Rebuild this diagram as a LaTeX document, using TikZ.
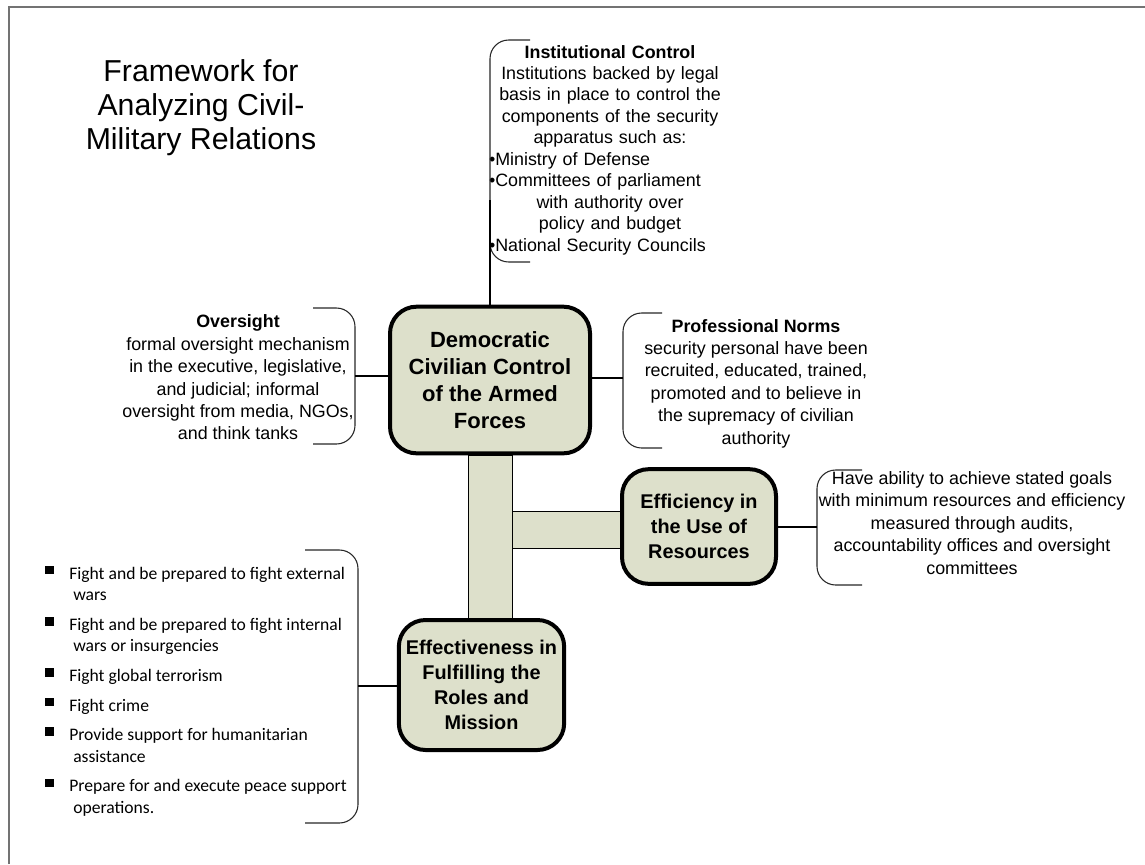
\documentclass[tikz,border=0pt]{standalone}
\usepackage{fontspec}
\setmainfont{Liberation Sans}
\newfontfamily\listfont{Carlito}
\usetikzlibrary{calc, backgrounds}

\definecolor{boxfill}{RGB}{221,224,203}
\newcommand{\sqbullet}{\makebox[18pt][l]{\raisebox{3.5pt}{\rule{6.5pt}{6.5pt}}}}
\newcommand{\institem}[1]{\makebox[181.5pt][l]{\textbullet #1}}

\begin{document}
\begin{tikzpicture}[
    x=0.75pt, y=-0.75pt,
    mainbox/.style={draw, line width=3pt, rounded corners=20pt, fill=boxfill, inner sep=0pt, align=center, font=\bfseries\fontsize{14.9}{18.9}\selectfont},
    bar/.style={draw, line width=0.6pt, fill=boxfill},
    desc/.style={inner sep=0pt, align=center, font=\fontsize{13.4}{16.8}\selectfont},
    brace/.style={draw=black!85, line width=0.8pt, rounded corners=14pt},
    link/.style={draw, line width=0.8pt}
]

% Marco
\useasboundingbox (0,0) rectangle (1145,864);
\draw [black!55, line width=1.5pt] (9,864) -- (9,7) -- (1145,7);

% Titulo
\node (title) [align=center, font=\fontsize{22.7}{25.5}\selectfont] at (201,108) {Framework for\\Analyzing Civil-\\Military Relations};

% Cajas principales
\node (ctrl) [mainbox, minimum width=150pt, minimum height=110pt, font=\bfseries\fontsize{16.5}{20.2}\selectfont] at (490,380) {Democratic\\Civilian Control\\of the Armed\\Forces};
\node (effic) [mainbox, minimum width=115.5pt, minimum height=86pt] at (699,526.5) {Efficiency in\\the Use of\\Resources};
\node (effect) [mainbox, minimum width=124pt, minimum height=97.5pt] at (481.5,685) {Effectiveness in\\Fulfilling the\\Roles and\\Mission};

% Barras de union
\begin{scope}[on background layer]
    \draw [bar] ($(ctrl.south)+(-22,0)$) rectangle ($(ctrl.south |- effect.north)+(22,0)$);
    \draw [bar] ($(ctrl.south |- effic.west)+(22,-15.5)$) rectangle ($(effic.west)+(0,21.5)$);
\end{scope}

% Textos
\node (inst) [desc, text width=181.5pt, font=\fontsize{13.4}{16.1}\selectfont] at (610,150) {\textbf{Institutional Control}\\Institutions backed by legal\\basis in place to control the\\components of the security\\apparatus such as:\\\institem{Ministry of Defense}\\\institem{Committees of parliament}\\with authority over\\policy and budget\\\institem{National Security Councils}};
\node (overs) [desc] at (238,377.5) {\textbf{Oversight}\\formal oversight mechanism\\in the executive, legislative,\\and judicial; informal\\oversight from media, NGOs,\\and think tanks};
\node (prof) [desc] at (756,383.5) {\textbf{Professional Norms}\\security personal have been\\recruited, educated, trained,\\promoted and to believe in\\the supremacy of civilian\\authority};
\node (resdesc) [desc] at (972,523) {Have ability to achieve stated goals\\with minimum resources and efficiency\\measured through audits,\\accountability offices and oversight\\committees};
\node (roles) [anchor=west, inner sep=0pt, font=\listfont\fontsize{13.2}{16.2}\selectfont] at (45,692) {%
\begin{tabular}{@{}l@{}l@{}}
\sqbullet & Fight and be prepared to fight external\\
 & \hspace{3pt}wars\\[6pt]
\sqbullet & Fight and be prepared to fight internal\\
 & \hspace{3pt}wars or insurgencies\\[6pt]
\sqbullet & Fight global terrorism\\[6pt]
\sqbullet & Fight crime\\[6pt]
\sqbullet & Provide support for humanitarian\\
 & \hspace{3pt}assistance\\[6pt]
\sqbullet & Prepare for and execute peace support\\
 & \hspace{3pt}operations.
\end{tabular}};

% Llaves y conexiones
\draw [brace] (530,40) -- (490,40) -- (490,262) -- (530,262);
\coordinate (instb) at (490,200);
\draw [link] (ctrl.north) -- (instb);

\draw [brace] (313,308) -- (355,308) -- (355,444) -- (313,444);
\coordinate (ovb) at (355,376);
\draw [link] (ovb) -- (ovb -| ctrl.west);

\draw [brace] (662,313) -- (623,313) -- (623,448) -- (662,448);
\coordinate (prb) at (623,378);
\draw [link] (prb) -- (prb -| ctrl.east);

\draw [brace] (862,470) -- (817,470) -- (817,585) -- (862,585);
\coordinate (resb) at (817,527);
\draw [link] (resb) -- (resb -| effic.east);

\draw [brace] (305,550) -- (358,550) -- (358,823) -- (305,823);
\coordinate (misb) at (358,686);
\draw [link] (misb) -- (misb -| effect.west);

\end{tikzpicture}
\end{document}
